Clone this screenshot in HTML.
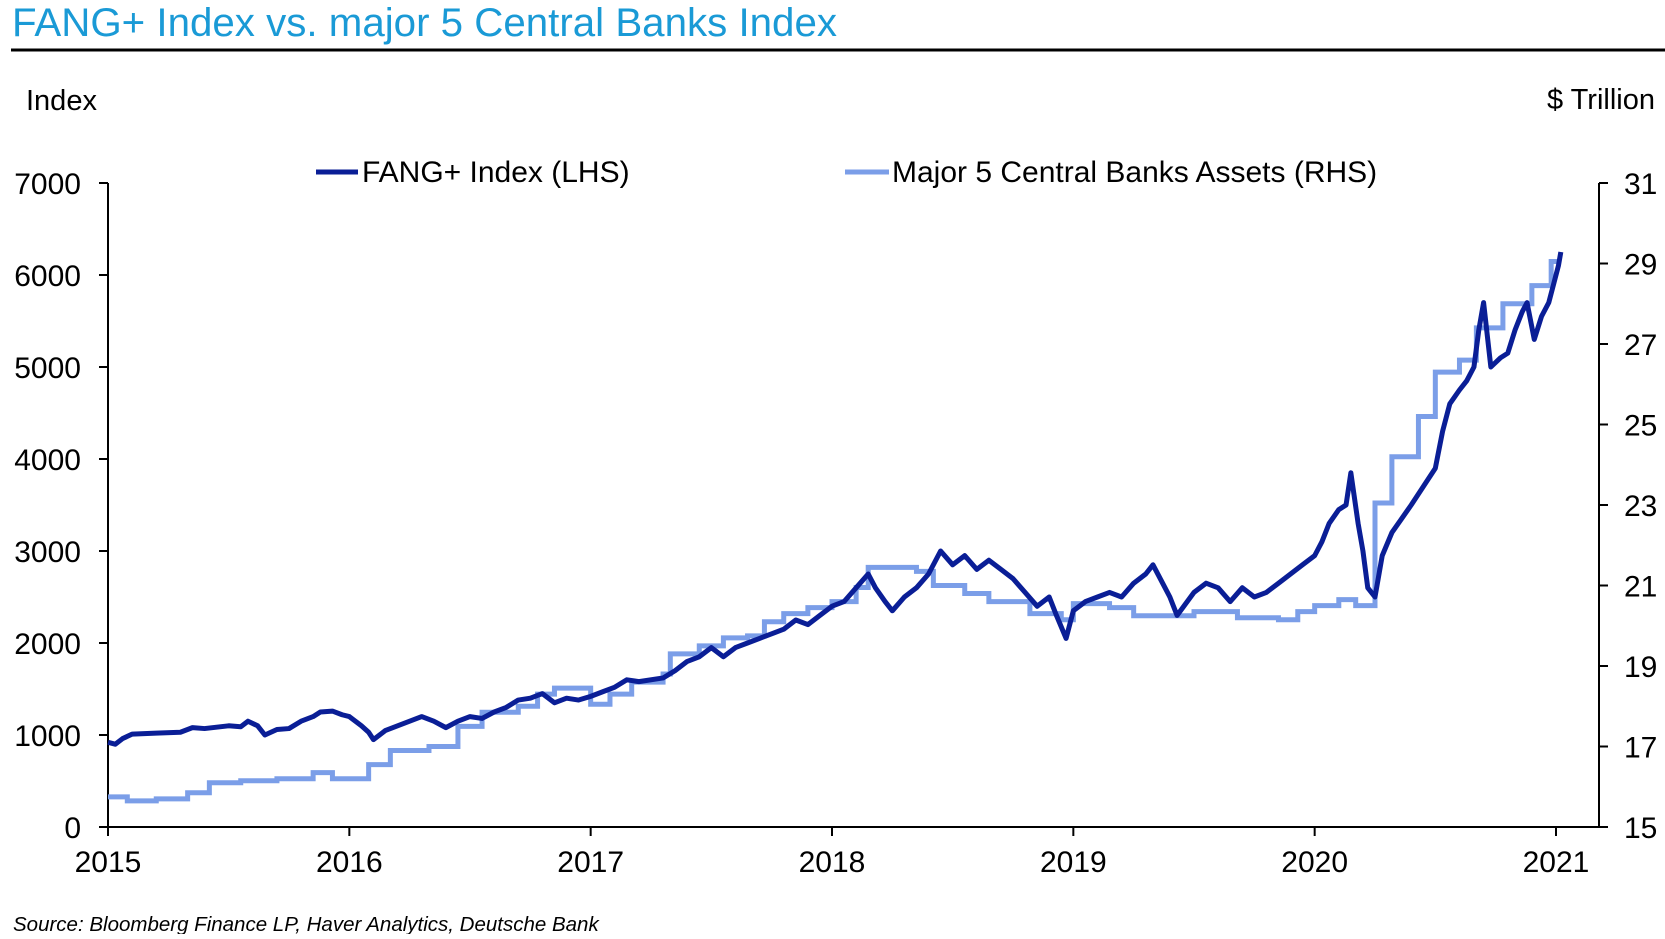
<!DOCTYPE html>
<html><head><meta charset="utf-8">
<style>
html,body{margin:0;padding:0;background:#fff;}
body{width:1665px;height:934px;overflow:hidden;position:relative;font-family:"Liberation Sans",Arial,sans-serif;}
</style></head>
<body>
<svg id="chart" width="1665" height="934" viewBox="0 0 1665 934" xmlns="http://www.w3.org/2000/svg" font-family="Liberation Sans, Arial, sans-serif">
  <text x="12" y="36" font-size="40" fill="#1a9ad6" textLength="825" lengthAdjust="spacingAndGlyphs">FANG+ Index vs. major 5 Central Banks Index</text>
  <line x1="11" y1="50" x2="1665" y2="50" stroke="#000" stroke-width="3"/>
  <text x="26" y="110" font-size="29" fill="#000">Index</text>
  <text x="1655" y="109" font-size="29" fill="#000" text-anchor="end">$ Trillion</text>
  <g>
    <line x1="316" y1="172" x2="358" y2="172" stroke="#0a1e96" stroke-width="5"/>
    <text x="362" y="182" font-size="30">FANG+ Index (LHS)</text>
    <line x1="845" y1="172" x2="889" y2="172" stroke="#7b9ee8" stroke-width="5"/>
    <text x="892" y="182" font-size="30">Major 5 Central Banks Assets (RHS)</text>
  </g>
  <g id="axes"></g>
  <g id="series"></g>
  <text x="13" y="931" font-size="20.5" font-style="italic">Source: Bloomberg Finance LP, Haver Analytics, Deutsche Bank</text>
</svg>
<script>
const leftTicks=[0,1000,2000,3000,4000,5000,6000,7000];
const rightTicks=[15,17,19,21,23,25,27,29,31];
const yearTicks=[2015,2016,2017,2018,2019,2020,2021];
const fangDates=[2015.0,2015.03,2015.06,2015.1,2015.2,2015.3,2015.35,2015.4,2015.5,2015.55,2015.58,2015.62,2015.65,2015.7,2015.75,2015.8,2015.85,2015.88,2015.93,2015.97,2016.0,2016.05,2016.08,2016.1,2016.15,2016.2,2016.25,2016.3,2016.35,2016.4,2016.45,2016.5,2016.55,2016.6,2016.65,2016.7,2016.75,2016.8,2016.85,2016.9,2016.95,2017.0,2017.05,2017.1,2017.15,2017.2,2017.3,2017.35,2017.4,2017.45,2017.5,2017.55,2017.6,2017.65,2017.7,2017.75,2017.8,2017.85,2017.9,2017.95,2018.0,2018.05,2018.1,2018.15,2018.18,2018.22,2018.25,2018.3,2018.35,2018.4,2018.45,2018.5,2018.55,2018.6,2018.65,2018.7,2018.75,2018.8,2018.85,2018.9,2018.93,2018.97,2019.0,2019.05,2019.1,2019.15,2019.2,2019.25,2019.3,2019.33,2019.37,2019.4,2019.43,2019.5,2019.55,2019.6,2019.65,2019.7,2019.75,2019.8,2019.85,2019.9,2019.95,2020.0,2020.03,2020.06,2020.1,2020.13,2020.15,2020.18,2020.2,2020.22,2020.25,2020.28,2020.32,2020.36,2020.4,2020.45,2020.5,2020.53,2020.56,2020.6,2020.63,2020.66,2020.68,2020.7,2020.73,2020.77,2020.8,2020.83,2020.86,2020.88,2020.91,2020.94,2020.97,2020.99,2021.01,2021.02];
const fangValues=[920,900,960,1010,1020,1030,1080,1070,1100,1090,1150,1100,1000,1060,1070,1150,1200,1250,1260,1220,1200,1100,1030,950,1050,1100,1150,1200,1150,1080,1150,1200,1180,1250,1300,1380,1400,1450,1350,1400,1380,1420,1470,1520,1600,1580,1620,1700,1800,1850,1950,1850,1950,2000,2050,2100,2150,2250,2200,2300,2400,2450,2600,2750,2600,2450,2350,2500,2600,2750,3000,2850,2950,2800,2900,2800,2700,2550,2400,2500,2300,2050,2350,2450,2500,2550,2500,2650,2750,2850,2650,2500,2300,2550,2650,2600,2450,2600,2500,2550,2650,2750,2850,2950,3100,3300,3450,3500,3850,3300,3000,2600,2500,2950,3200,3350,3500,3700,3900,4300,4600,4750,4850,5000,5400,5700,5000,5100,5150,5400,5600,5700,5300,5550,5700,5900,6100,6250,6500];
const cbDates=[2015.0,2015.08,2015.2,2015.33,2015.42,2015.55,2015.7,2015.85,2015.93,2016.08,2016.17,2016.33,2016.45,2016.55,2016.7,2016.78,2016.85,2017.0,2017.08,2017.17,2017.3,2017.33,2017.45,2017.55,2017.65,2017.72,2017.8,2017.9,2018.0,2018.1,2018.15,2018.35,2018.42,2018.55,2018.65,2018.82,2018.95,2019.0,2019.15,2019.25,2019.4,2019.5,2019.68,2019.85,2019.93,2020.0,2020.1,2020.17,2020.25,2020.32,2020.43,2020.5,2020.6,2020.67,2020.78,2020.9,2020.98,2021.02];
const cbValues=[15.75,15.65,15.7,15.85,16.1,16.15,16.2,16.35,16.2,16.55,16.9,17.0,17.5,17.85,18.0,18.3,18.45,18.05,18.3,18.6,18.8,19.3,19.5,19.7,19.75,20.1,20.3,20.45,20.6,20.95,21.45,21.35,21.0,20.8,20.6,20.3,20.15,20.55,20.45,20.25,20.25,20.35,20.2,20.15,20.35,20.5,20.65,20.5,23.05,24.2,25.2,26.3,26.6,27.4,28.0,28.45,29.05,29.05];

const X0=108,X1=1556,YT=183,YB=827,RX=1599;
const xS=t=>X0+(t-2015)/6*(X1-X0);
const yL=v=>YB-v/7000*(YB-YT);
const yR=v=>YB-(v-15)/16*(YB-YT);
const NS='http://www.w3.org/2000/svg';
function mk(tag,attrs,parent){const e=document.createElementNS(NS,tag);for(const k in attrs)e.setAttribute(k,attrs[k]);parent.appendChild(e);return e;}
const axes=document.getElementById('axes'),series=document.getElementById('series');

let e=mk('line',{x1:X0,y1:YT,x2:X0,y2:YB,stroke:'#000','stroke-width':2},axes);


e=mk('line',{x1:RX,y1:YT,x2:RX,y2:YB,stroke:'#000','stroke-width':2},axes);


e=mk('line',{x1:X0,y1:YB,x2:RX,y2:YB,stroke:'#000','stroke-width':2},axes);



leftTicks.forEach(v=>{const y=yL(v);
  let t=mk('line',{x1:X0-9,y1:y,x2:X0,y2:y,stroke:'#000','stroke-width':2},axes);
  
  
  let l=mk('text',{x:81,y:y+11,'font-size':30,'text-anchor':'end'},axes);l.textContent=v;
  
  
});
rightTicks.forEach(v=>{const y=yR(v);
  let t=mk('line',{x1:RX,y1:y,x2:RX+9,y2:y,stroke:'#000','stroke-width':2},axes);
  
  
  let l=mk('text',{x:1624,y:y+11,'font-size':30},axes);l.textContent=v;
  
  
});
yearTicks.forEach(v=>{const x=xS(v);
  let t=mk('line',{x1:x,y1:YB,x2:x,y2:YB+9,stroke:'#000','stroke-width':2},axes);
  
  
  let l=mk('text',{x:x,y:872,'font-size':30,'text-anchor':'middle'},axes);l.textContent=v;
  
  
});

let cbPts=[];
cbDates.forEach((d,i)=>{const x=xS(d),y=yR(cbValues[i]);
  if(i>0)cbPts.push(x+','+yR(cbValues[i-1]));
  cbPts.push(x+','+y);});
let cb=mk('polyline',{points:cbPts.join(' '),fill:'none',stroke:'#7b9ee8','stroke-width':5,'stroke-linejoin':'miter'},series);



let fPts=fangDates.map((d,i)=>xS(d)+','+yL(fangValues[i]));
let f=mk('polyline',{points:fPts.join(' '),fill:'none',stroke:'#0a1e96','stroke-width':5,'stroke-linejoin':'round'},series);


</script>
</body></html>
